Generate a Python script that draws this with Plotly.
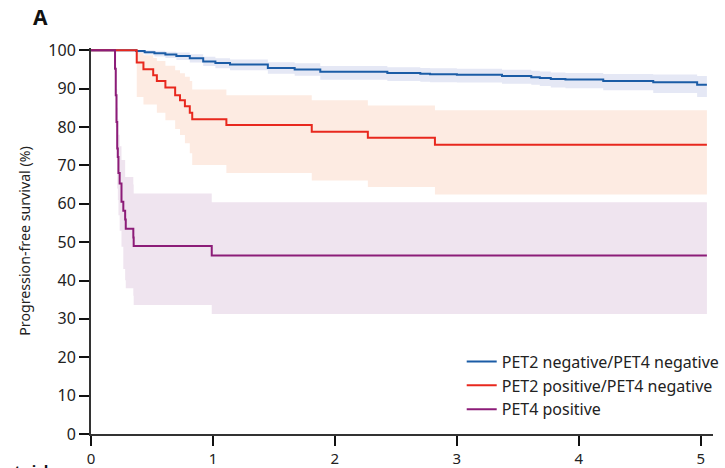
import plotly.graph_objects as go

# ---- data (years, progression-free survival %) ----
blue_name = "PET2 negative/PET4 negative"
blue_t = [0, 0.37, 0.44, 0.52, 0.61, 0.70, 0.81, 0.92, 1.02, 1.14, 1.45, 1.67, 1.88, 2.43, 2.70, 2.78, 3.00, 3.37, 3.61, 3.68, 3.77, 3.89, 4.20, 4.61, 4.97, 5.05]
blue_s = [100, 99.8, 99.5, 99.2, 98.9, 98.5, 97.9, 97.1, 96.7, 96.3, 95.4, 95.0, 94.4, 94.1, 93.9, 93.75, 93.6, 93.3, 93.0, 92.8, 92.5, 92.4, 92.0, 91.7, 91.0, 91.0]
blue_lo = [100, 99.3, 98.9, 98.4, 98.0, 97.5, 96.8, 95.9, 95.3, 94.8, 93.9, 93.4, 92.3, 92.0, 91.8, 91.7, 91.6, 91.3, 91.0, 90.7, 90.3, 90.1, 89.6, 88.9, 87.8, 87.8]
blue_hi = [100, 100, 100, 99.9, 99.6, 99.4, 99.0, 98.3, 97.9, 97.6, 96.9, 96.6, 95.9, 95.6, 95.4, 95.3, 95.2, 94.9, 94.7, 94.5, 94.2, 94.1, 93.8, 93.7, 93.3, 93.3]

red_name = "PET2 positive/PET4 negative"
red_t = [0, 0.375, 0.43, 0.51, 0.54, 0.61, 0.69, 0.73, 0.77, 0.81, 0.83, 1.11, 1.81, 2.27, 2.82, 5.05]
red_s = [100, 96.8, 95.05, 93.5, 92.0, 90.3, 88.3, 87.0, 85.4, 83.7, 82.0, 80.5, 78.8, 77.2, 75.4, 75.4]
red_lo = [100, 87.8, 85.9, 85.9, 83.7, 81.8, 79.5, 77.9, 75.8, 73.2, 70.1, 68.0, 66.1, 64.4, 62.4, 62.4]
red_hi = [100, 99.3, 98.7, 98.0, 97.2, 96.0, 94.8, 94.0, 93.1, 92.0, 89.8, 88.3, 87.0, 85.6, 84.4, 84.4]

pur_name = "PET4 positive"
pur_t = [0, 0.197, 0.203, 0.209, 0.215, 0.22, 0.225, 0.235, 0.25, 0.265, 0.28, 0.285, 0.347, 0.35, 0.99, 5.05]
pur_s = [100, 95.2, 88.3, 81.3, 74.4, 72.2, 68.0, 65.3, 60.5, 58.2, 55.9, 53.5, 51.2, 49.0, 46.5, 46.5]
pur_lo = [100, 88, 80, 72, 64, 61, 57, 53, 48.8, 43, 40.1, 38, 36, 33.6, 31.25, 31.25]
pur_hi = [100, 99, 95, 90, 85, 82, 78, 75, 71.4, 71.4, 67, 67, 65, 62.7, 60.4, 60.4]

x_ticks = [0, 1, 2, 3, 4, 5]
y_ticks = [0, 10, 20, 30, 40, 50, 60, 70, 80, 90, 100]

series = [
    (blue_name, blue_t, blue_s, blue_lo, blue_hi, "#1b5ca6", "#e5e8f5"),
    (red_name, red_t, red_s, red_lo, red_hi, "#e8281e", "#fdebe2"),
    (pur_name, pur_t, pur_s, pur_lo, pur_hi, "#8c1c78", "#efe4ef"),
]

fig = go.Figure()

# confidence bands
for name, t, s, lo, hi, lc, fc in [series[1], series[2], series[0]]:
    fig.add_trace(go.Scatter(x=t, y=lo, mode="lines", line=dict(width=0, shape="hv", color=fc),
                             showlegend=False, hoverinfo="skip"))
    fig.add_trace(go.Scatter(x=t, y=hi, mode="lines", line=dict(width=0, shape="hv", color=fc),
                             fill="tonexty", fillcolor=fc, showlegend=False, hoverinfo="skip"))

# survival curves
for name, t, s, lo, hi, lc, fc in series:
    fig.add_trace(go.Scatter(x=t, y=s, mode="lines", name=name,
                             line=dict(width=2, shape="hv", color=lc)))

font_family = "Noto Sans"
txt = "#222222"

fig.update_layout(
    width=725, height=468,
    margin=dict(l=91, r=12, t=48, b=34, autoexpand=False),
    paper_bgcolor="white", plot_bgcolor="white",
    font=dict(family=font_family, size=15, color=txt),
    showlegend=True,
    legend=dict(x=0.596, y=0.2315, xanchor="left", yanchor="top", traceorder="normal",
                bgcolor="rgba(0,0,0,0)", font=dict(size=16, color=txt),
                tracegroupgap=0, itemwidth=30),
    xaxis=dict(range=[0, 5.1], tickvals=x_ticks, ticktext=[str(v) for v in x_ticks],
               showgrid=False, zeroline=False, showline=True, linecolor="#333333", linewidth=2,
               ticks="outside", ticklen=10, tickwidth=2, tickcolor="#111111",
               tickfont=dict(size=15, color=txt)),
    yaxis=dict(range=[0, 100.6], tickvals=y_ticks, ticktext=[str(v) for v in y_ticks],
               showgrid=False, zeroline=False, showline=True, linecolor="#333333", linewidth=2,
               ticks="outside", ticklen=10, tickwidth=2, tickcolor="#111111",
               tickfont=dict(size=16, color=txt),
               title=dict(text="Progression-free survival (%)", standoff=14,
                          font=dict(size=14.2, color=txt))),
    annotations=[
        dict(text="<b>A</b>", xref="paper", yref="paper", x=-0.0964, y=1.080,
             xanchor="left", yanchor="middle", showarrow=False,
             font=dict(size=21, color="#111111", family=font_family)),
        dict(text="<b>Number at risk</b>", xref="paper", yref="paper", x=-0.056, y=-0.0622,
             xanchor="right", yanchor="top", showarrow=False,
             font=dict(size=15, color="#111111", family=font_family)),
    ],
)

fig.write_html("out.html")
